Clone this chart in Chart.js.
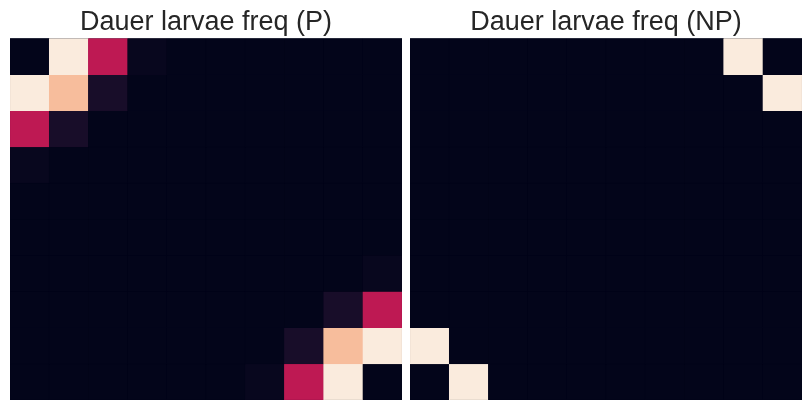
<!DOCTYPE html>
<html>
<head>
<meta charset="utf-8">
<script src="https://cdn.jsdelivr.net/npm/chart.js@4/dist/chart.umd.min.js"></script>
<style>
  body { margin: 0; background: #fff; }
  .panel { position: absolute; top: 0; width: 392px; height: 400px; }
</style>
</head>
<body>
<div class="panel" style="left:10px"><canvas id="chartP"></canvas></div>
<div class="panel" style="left:410px"><canvas id="chartNP"></canvas></div>
<script>
// column / row labels of the grid
var cols = ['0', '1', '2', '3', '4', '5', '6', '7', '8', '9'];
var rows = ['0', '1', '2', '3', '4', '5', '6', '7', '8', '9'];

// Dauer larvae freq (P), one array per row, top to bottom
var freqP = [
  [0.00, 1.00, 0.47, 0.015, 0.00, 0.00, 0.00, 0.00, 0.00, 0.00],
  [1.00, 0.88, 0.06, 0.00, 0.00, 0.00, 0.00, 0.00, 0.00, 0.00],
  [0.47, 0.06, 0.00, 0.00, 0.00, 0.00, 0.00, 0.00, 0.00, 0.00],
  [0.015, 0.00, 0.00, 0.00, 0.00, 0.00, 0.00, 0.00, 0.00, 0.00],
  [0.00, 0.00, 0.00, 0.00, 0.00, 0.00, 0.00, 0.00, 0.00, 0.00],
  [0.00, 0.00, 0.00, 0.00, 0.00, 0.00, 0.00, 0.00, 0.00, 0.00],
  [0.00, 0.00, 0.00, 0.00, 0.00, 0.00, 0.00, 0.00, 0.00, 0.015],
  [0.00, 0.00, 0.00, 0.00, 0.00, 0.00, 0.00, 0.00, 0.06, 0.47],
  [0.00, 0.00, 0.00, 0.00, 0.00, 0.00, 0.00, 0.06, 0.88, 1.00],
  [0.00, 0.00, 0.00, 0.00, 0.00, 0.00, 0.015, 0.47, 1.00, 0.00]
];

// Dauer larvae freq (NP)
var freqNP = [
  [0, 0, 0, 0, 0, 0, 0, 0, 1, 0],
  [0, 0, 0, 0, 0, 0, 0, 0, 0, 1],
  [0, 0, 0, 0, 0, 0, 0, 0, 0, 0],
  [0, 0, 0, 0, 0, 0, 0, 0, 0, 0],
  [0, 0, 0, 0, 0, 0, 0, 0, 0, 0],
  [0, 0, 0, 0, 0, 0, 0, 0, 0, 0],
  [0, 0, 0, 0, 0, 0, 0, 0, 0, 0],
  [0, 0, 0, 0, 0, 0, 0, 0, 0, 0],
  [1, 0, 0, 0, 0, 0, 0, 0, 0, 0],
  [0, 1, 0, 0, 0, 0, 0, 0, 0, 0]
];

// seaborn "rocket" colormap stops
var rocket = [
  [0.000, [3, 5, 26]],
  [0.143, [53, 25, 62]],
  [0.286, [112, 31, 87]],
  [0.429, [173, 23, 89]],
  [0.500, [203, 27, 79]],
  [0.571, [225, 51, 66]],
  [0.714, [243, 118, 81]],
  [0.857, [246, 180, 143]],
  [1.000, [250, 235, 221]]
];

function rocketColor(v) {
  for (var i = 1; i < rocket.length; i++) {
    if (v <= rocket[i][0]) {
      var a = rocket[i - 1], b = rocket[i];
      var t = (v - a[0]) / (b[0] - a[0]);
      var c = a[1].map(function(x, k) { return Math.round(x + (b[1][k] - x) * t); });
      return 'rgb(' + c.join(',') + ')';
    }
  }
  return 'rgb(250,235,221)';
}

// fill the plot area with the lowest colour so no seams show between cells
var areaFill = {
  id: 'areaFill',
  beforeDatasetsDraw: function(chart) {
    var a = chart.chartArea;
    chart.ctx.save();
    chart.ctx.fillStyle = rocketColor(0);
    chart.ctx.fillRect(a.left, a.top, a.right - a.left, a.bottom - a.top);
    chart.ctx.restore();
  }
};

function makeHeatmap(id, title, matrix) {
  var datasets = rows.map(function(r, ri) {
    var colors = matrix[ri].map(rocketColor);
    return {
      label: r,
      // each cell spans one row unit; the colour carries the value
      data: cols.map(function() { return [ri, ri + 1]; }),
      backgroundColor: colors,
      borderColor: colors,
      borderWidth: 0.5,
      borderSkipped: false,
      barPercentage: 1,
      categoryPercentage: 1,
      grouped: false
    };
  });

  return new Chart(document.getElementById(id), {
    type: 'bar',
    data: { labels: cols, datasets: datasets },
    plugins: [areaFill],
    options: {
      responsive: true,
      maintainAspectRatio: false,
      animation: false,
      layout: { padding: 0 },
      scales: {
        x: { display: false, offset: true },
        y: { display: false, min: 0, max: 10, reverse: true }
      },
      plugins: {
        legend: { display: false },
        tooltip: { enabled: false },
        title: {
          display: true,
          text: title,
          color: '#262626',
          font: { family: 'Liberation Sans, Arial, sans-serif', size: 27, weight: 'normal' },
          padding: { top: 6, bottom: 0 }
        }
      }
    }
  });
}

makeHeatmap('chartP', 'Dauer larvae freq (P)', freqP);
makeHeatmap('chartNP', 'Dauer larvae freq (NP)', freqNP);
</script>
</body>
</html>
